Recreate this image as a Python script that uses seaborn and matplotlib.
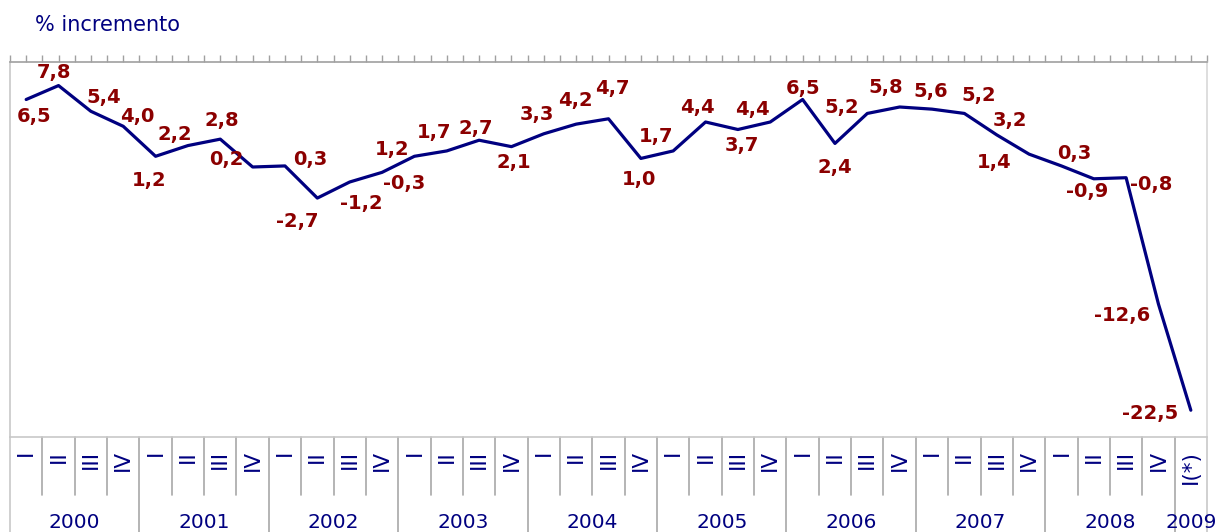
import numpy as np
import pandas as pd
import matplotlib
matplotlib.use('Agg')
import matplotlib.pyplot as plt
import matplotlib.transforms as mtransforms
import seaborn as sns

# dati trimestrali (% incremento)
anni = ['2000', '2001', '2002', '2003', '2004', '2005', '2006', '2007', '2008', '2009']
trimestri = ['I', 'II', 'III', 'IV'] * 9 + ['I(*)']
valori = [6.5, 7.8, 5.4, 4.0,
          1.2, 2.2, 2.8, 0.2,
          0.3, -2.7, -1.2, -0.3,
          1.2, 1.7, 2.7, 2.1,
          3.3, 4.2, 4.7, 1.0,
          1.7, 4.4, 3.7, 4.4,
          6.5, 2.4, 5.2, 5.8,
          5.6, 5.2, 3.2, 1.4,
          0.3, -0.9, -0.8, -12.6,
          -22.5]

# spostamento etichette (pixel)
offs = [(8, -17), (-5, 13), (13, 14), (14, 10),
        (-6, -24), (-13, 11), (2, 19), (-26, 7),
        (25, 6), (-20, -23), (12, -22), (22, -11),
        (-22, 7), (-13, 18), (-3, 12), (2, -16),
        (-7, 19), (-1, 24), (4, 30), (-2, -21),
        (-17, 14), (-8, 14), (4, -16), (-18, 12),
        (0, 11), (0, -24), (-26, 6), (-14, 20),
        (-1, 18), (14, 18), (13, 14), (-35, -8),
        (13, 12), (-7, -13), (25, -7), (-36, -11),
        (-41, -3)]

df = pd.DataFrame({'pos': np.arange(len(valori)), 'valore': valori, 'trim': trimestri})

sns.set_style('white')
plt.rcParams['font.family'] = ['DejaVu Sans']

W, H = 1216, 532
fig = plt.figure(figsize=(W / 100, H / 100), dpi=100)
ax = fig.add_axes([10 / W, 1 - 437 / H, 1197 / W, 375 / H])

sns.lineplot(data=df, x='pos', y='valore', color='#000080', lw=2.3, ax=ax)

ax.set_xlim(-0.5, len(valori) - 0.5)
ax.set_ylim(-25, 10)
ax.set_xlabel('')
ax.set_ylabel('')
ax.set_yticks([])

ax.xaxis.tick_top()
ax.set_xticks(np.arange(-0.5, len(valori), 0.5))
ax.tick_params(axis='x', direction='out', length=5, width=1, color='#a0a0a0',
               labeltop=False, labelbottom=False)
for s, c in [('top', '#a0a0a0'), ('left', '#c8c8c8'), ('right', '#d8d8d8'), ('bottom', '#c8c8c8')]:
    ax.spines[s].set_color(c)
    ax.spines[s].set_linewidth(1.2)

for i, v in enumerate(valori):
    ax.annotate(f'{v:.1f}'.replace('.', ','), (i, v), xytext=offs[i],
                textcoords='offset pixels', ha='center', va='center',
                color='#8b0000', fontsize=14, fontweight='bold')

# tabella categorie sotto il grafico
tr = mtransforms.blended_transform_factory(ax.transData, fig.transFigure)
y_top = 1 - 437 / H
y_q = 1 - 495 / H
for i, t in enumerate(trimestri):
    ax.text(i, 1 - 450 / H, t, transform=tr, rotation=90, ha='center', va='top',
            color='#000080', fontsize=15.5, clip_on=False)
    if i > 0:
        y_end = 0 if t in ('I', 'I(*)') else y_q
        ax.plot([i - 0.5, i - 0.5], [y_top, y_end], transform=tr, color='#a8a8a8',
                lw=1.2, clip_on=False)
for xb, c in [(-0.5, '#c8c8c8'), (len(valori) - 0.5, '#c8c8c8')]:
    ax.plot([xb, xb], [y_top, 0], transform=tr, color=c, lw=1.2, clip_on=False)

for k, a in enumerate(anni):
    n = 1 if k == len(anni) - 1 else 4
    ax.text(4 * k + (n - 1) / 2, 1 - 522 / H, a, transform=tr, ha='center', va='center',
            color='#000080', fontsize=14.5, clip_on=False)

fig.text(35 / W, 1 - 25 / H, '% incremento', color='#000080', fontsize=15, va='center')

fig.savefig('out.png', dpi=100)
